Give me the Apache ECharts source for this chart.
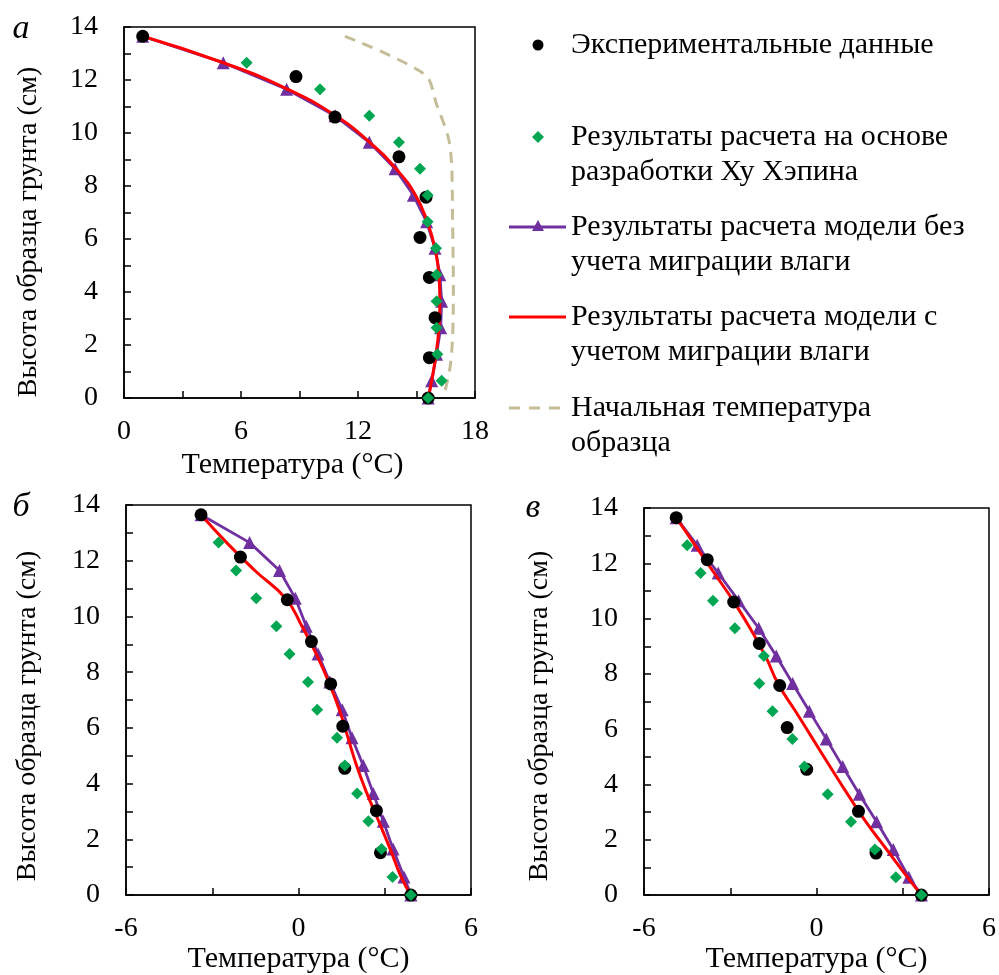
<!DOCTYPE html>
<html>
<head>
<meta charset="utf-8">
<script src="https://cdn.jsdelivr.net/npm/echarts@6/dist/echarts.min.js"></script>
<style>
html,body{margin:0;padding:0;background:#fff;}
#chart{width:999px;height:975px;}
</style>
</head>
<body>
<div id="chart"></div>
<script>
// ---- data ----
var hExp = [13.65, 12.13, 10.6, 9.1, 7.58, 6.06, 4.55, 3.03, 1.52, 0];
var hModel = [13.65, 12.65, 11.65, 10.65, 9.65, 8.65, 7.65, 6.65, 5.65, 4.65, 3.65, 2.65, 1.65, 0.65, 0];
var hHu = [12.65, 11.65, 10.65, 9.65, 8.65, 7.65, 6.65, 5.65, 4.65, 3.65, 2.65, 1.65, 0.65, 0];

// panel а
var expA = [0.96, 8.82, 10.82, 14.1, 15.49, 15.18, 15.66, 15.95, 15.66, 15.6];
var huA = [6.29, 10.05, 12.58, 14.1, 15.18, 15.57, 15.57, 16.0, 16.03, 16.03, 16.03, 16.07, 16.29, 15.6];
var noMigA = [0.96, 5.09, 8.34, 10.82, 12.58, 13.9, 14.84, 15.52, 15.95, 16.2, 16.29, 16.24, 16.03, 15.78, 15.6];
var migA = [0.96, 5.1, 8.4, 10.85, 12.6, 13.95, 14.95, 15.55, 15.95, 16.15, 16.2, 16.15, 16.0, 15.78, 15.6];
var initT = [11.33, 15.44, 16.03, 16.63, 16.8, 16.85, 16.89, 16.85, 16.72, 16.38];
var initH = [13.65, 12.2, 11.08, 9.83, 8.82, 6.69, 4.17, 2.29, 1.16, 0];

// panel б
var expB = [-3.39, -2.02, -0.39, 0.45, 1.12, 1.54, 1.61, 2.71, 2.85, 3.91];
var huB = [-2.78, -2.17, -1.47, -0.77, -0.31, 0.33, 0.65, 1.34, 1.61, 2.04, 2.43, 2.89, 3.27, 3.91];
var noMigB = [-3.39, -1.70, -0.66, -0.11, 0.27, 0.68, 1.09, 1.52, 1.86, 2.25, 2.60, 2.95, 3.29, 3.67, 3.91];
var migB = [-3.39, -2.5, -1.52, -0.45, 0.12, 0.62, 1.05, 1.42, 1.72, 2.02, 2.38, 2.79, 3.19, 3.57, 3.91];

// panel в
var expC = [-4.88, -3.80, -2.88, -1.99, -1.28, -1.02, -0.34, 1.46, 2.07, 3.65];
var huC = [-4.50, -4.03, -3.60, -2.84, -1.83, -1.99, -1.53, -0.84, -0.42, 0.39, 1.20, 2.03, 2.76, 3.65];
var noMigC = [-4.88, -4.15, -3.42, -2.71, -2.01, -1.40, -0.83, -0.25, 0.34, 0.91, 1.49, 2.09, 2.67, 3.21, 3.65];
var migC = [-4.88, -4.22, -3.56, -2.90, -2.31, -1.78, -1.34, -0.73, -0.13, 0.47, 1.08, 1.72, 2.44, 3.16, 3.65];

// tick label sets
var xLabelsA = [0, 6, 12, 18];
var xLabelsBC = [-6, 0, 6];
var yLabels = [0, 2, 4, 6, 8, 10, 12, 14];

var legendTexts = [
  ['Экспериментальные данные'],
  ['Результаты расчета на основе', 'разработки Ху Хэпина'],
  ['Результаты расчета модели без', 'учета миграции влаги'],
  ['Результаты расчета модели с', 'учетом миграции влаги'],
  ['Начальная температура', 'образца']
];
var panelLetters = ['а', 'б', 'в'];
var xTitle = 'Температура (°C)';
var yTitle = 'Высота образца грунта (см)';

// ---- style ----
var FONT = 'Liberation Serif, Times New Roman, serif';
var C_EXP = '#000000', C_HU = '#00A651', C_NOMIG = '#7030A0', C_MIG = '#FF0000', C_INIT = '#C4BD97';

function zip(xs, ys) { return xs.map(function (x, i) { return [x, ys[i]]; }); }

function xAxis(idx, min, max, labels, gap, pad) {
  return {
    type: 'value', gridIndex: idx, min: min, max: max, interval: 3,
    name: xTitle, nameLocation: 'middle', nameGap: gap,
    nameTextStyle: { fontFamily: FONT, fontSize: 30, color: '#000', padding: pad },
    axisLine: { show: true, onZero: false, lineStyle: { color: '#000', width: 1.5 } },
    axisTick: { show: true, inside: true, length: 7, lineStyle: { color: '#000', width: 1.5 } },
    axisLabel: { fontFamily: FONT, fontSize: 28, color: '#000', margin: 20,
      formatter: function (v) { return labels.indexOf(v) >= 0 ? String(v) : ''; } },
    splitLine: { show: false }
  };
}
function yAxis(idx) {
  return {
    type: 'value', gridIndex: idx, min: 0, max: 14, interval: 1,
    axisLine: { show: true, onZero: false, lineStyle: { color: '#000', width: 1.5 } },
    axisTick: { show: true, inside: true, length: 7, lineStyle: { color: '#000', width: 1.5 } },
    axisLabel: { fontFamily: FONT, fontSize: 28, color: '#000', margin: 26,
      formatter: function (v) { return yLabels.indexOf(v) >= 0 ? String(v) : ''; } },
    splitLine: { show: false }
  };
}

function panelSeries(idx, exp, hu, noMig, mig) {
  return [
    { type: 'line', xAxisIndex: idx, yAxisIndex: idx, data: zip(noMig, hModel), clip: false,
      lineStyle: { color: C_NOMIG, width: 2.8 }, itemStyle: { color: C_NOMIG, opacity: 1 },
      symbol: 'triangle', symbolSize: 13, showAllSymbol: true, z: 2, silent: true },
    { type: 'line', xAxisIndex: idx, yAxisIndex: idx, data: zip(mig, hModel), clip: false,
      smooth: 0.5, lineStyle: { color: C_MIG, width: 3 }, itemStyle: { color: C_MIG },
      symbol: 'none', z: 3, silent: true },
    { type: 'scatter', xAxisIndex: idx, yAxisIndex: idx, data: zip(exp, hExp), clip: false,
      symbol: 'circle', symbolSize: 13, itemStyle: { color: C_EXP, opacity: 1 }, z: 4, silent: true },
    { type: 'scatter', xAxisIndex: idx, yAxisIndex: idx, data: zip(hu, hHu), clip: false,
      symbol: 'diamond', symbolSize: 12, itemStyle: { color: C_HU, opacity: 1 }, z: 5, silent: true }
  ];
}

var series = [
  { type: 'line', xAxisIndex: 0, yAxisIndex: 0, data: zip(initT, initH), clip: false,
    smooth: 0.3, symbol: 'none', lineStyle: { color: C_INIT, width: 3, type: [11, 8] }, z: 1, silent: true }
].concat(panelSeries(0, expA, huA, noMigA, migA))
 .concat(panelSeries(1, expB, huB, noMigB, migB))
 .concat(panelSeries(2, expC, huC, noMigC, migC));

// legend graphics
var graphics = [];
var lx0 = 509, lx1 = 566, lcx = 538, tx = 571;
var rowsY = [45, 137, 227, 317, 408];
var lineH = 35;
graphics.push({ type: 'circle', shape: { cx: lcx, cy: rowsY[0], r: 5.5 }, style: { fill: C_EXP } });
graphics.push({ type: 'polygon', shape: { points: [[lcx, rowsY[1] - 6], [lcx + 6, rowsY[1]], [lcx, rowsY[1] + 6], [lcx - 6, rowsY[1]]] }, style: { fill: C_HU } });
graphics.push({ type: 'line', shape: { x1: lx0, y1: rowsY[2], x2: lx1, y2: rowsY[2] }, style: { stroke: C_NOMIG, lineWidth: 3 } });
graphics.push({ type: 'polygon', shape: { points: [[lcx, rowsY[2] - 7], [lcx + 6, rowsY[2] + 4], [lcx - 6, rowsY[2] + 4]] }, style: { fill: C_NOMIG } });
graphics.push({ type: 'line', shape: { x1: lx0, y1: rowsY[3], x2: lx1, y2: rowsY[3] }, style: { stroke: C_MIG, lineWidth: 3 } });
graphics.push({ type: 'line', shape: { x1: lx0, y1: rowsY[4], x2: lx1, y2: rowsY[4] }, style: { stroke: C_INIT, lineWidth: 3, lineDash: [11, 9] } });
legendTexts.forEach(function (lines, i) {
  lines.forEach(function (t, j) {
    graphics.push({ type: 'text', x: tx, y: rowsY[i] + j * lineH,
      style: { text: t, fontFamily: FONT, fontSize: 30, fill: '#000', textAlign: 'left', textVerticalAlign: 'middle' } });
  });
});
var letterPos = [[21, 29], [21, 507], [533, 508]];
panelLetters.forEach(function (l, i) {
  graphics.push({ type: 'text', x: letterPos[i][0], y: letterPos[i][1],
    style: { text: l, fontFamily: FONT, fontSize: 34, fontStyle: 'italic', fill: '#000', textAlign: 'center', textVerticalAlign: 'middle' } });
});
// y-axis titles (rotated)
var yTitlePos = [[29, 232], [28, 716], [540, 716]];
yTitlePos.forEach(function (p) {
  graphics.push({ type: 'text', x: p[0], y: p[1], rotation: Math.PI / 2,
    style: { text: yTitle, fontFamily: FONT, fontSize: 28, fill: '#000', textAlign: 'center', textVerticalAlign: 'middle' } });
});

var chart = echarts.init(document.getElementById('chart'), null, { renderer: 'canvas' });
chart.setOption({
  backgroundColor: '#fff',
  animation: false,
  grid: [
    { left: 124, top: 27, width: 351, height: 371, show: true, borderColor: '#000', borderWidth: 1.5 },
    { left: 126, top: 505, width: 345, height: 391, show: true, borderColor: '#000', borderWidth: 1.5 },
    { left: 644, top: 508, width: 346, height: 391, show: true, borderColor: '#000', borderWidth: 1.5 }
  ],
  xAxis: [xAxis(0, 0, 18, xLabelsA, 52, [0, 14, 0, 0]), xAxis(1, -6, 6, xLabelsBC, 46, 0), xAxis(2, -6, 6, xLabelsBC, 46, 0)],
  yAxis: [yAxis(0), yAxis(1), yAxis(2)],
  series: series,
  graphic: graphics
});
</script>
</body>
</html>
